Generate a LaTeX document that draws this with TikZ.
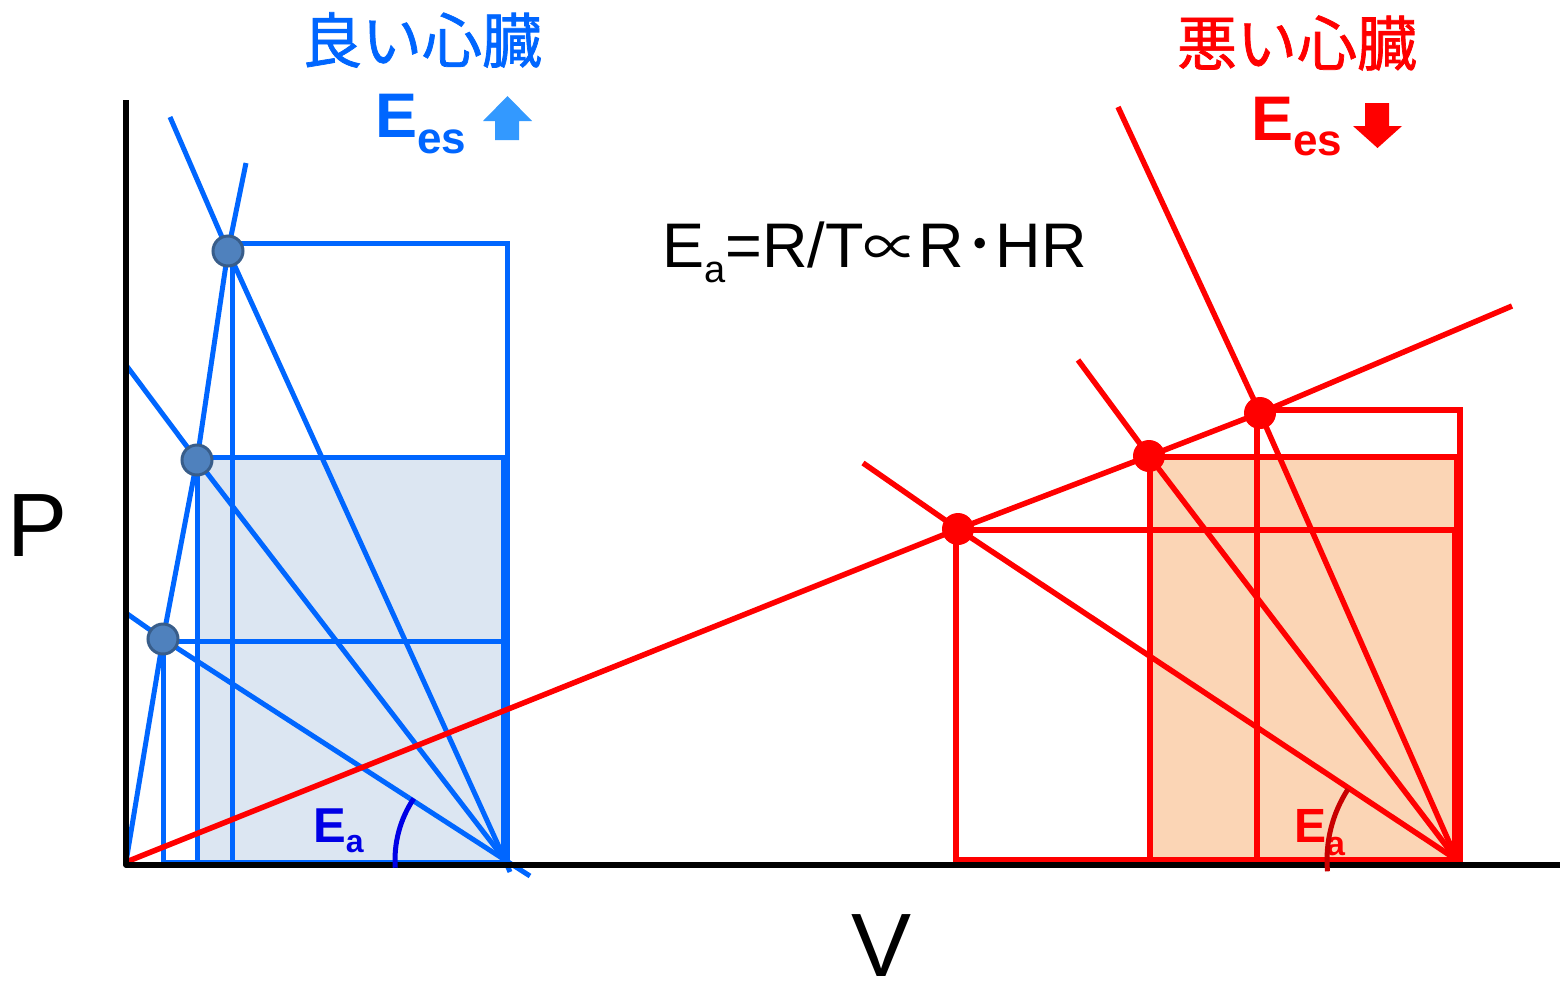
\documentclass[tikz,border=0pt]{standalone}
\usepackage{fontspec}
\setmainfont{Liberation Sans}
\newfontfamily\jpfont{Noto Sans CJK JP}
\newfontfamily\jpheavy[FakeBold=1.2]{Noto Sans CJK JP}
\usetikzlibrary{calc}
\definecolor{goodblue}{RGB}{0,102,255}
\definecolor{goodfill}{RGB}{220,230,242}
\definecolor{dotblue}{RGB}{79,129,189}
\definecolor{dotedge}{RGB}{56,93,138}
\definecolor{arrowblue}{RGB}{51,153,255}
\definecolor{arcblue}{RGB}{0,0,230}
\definecolor{badred}{RGB}{255,0,0}
\definecolor{badfill}{RGB}{251,213,181}
\definecolor{arcred}{RGB}{200,0,0}
\newcommand{\fsz}[1]{\fontsize{#1}{#1}\selectfont}

\begin{document}
\begin{tikzpicture}[
  x=1pt, y=-1pt,
  every node/.style={inner sep=0pt},
  axis/.style={line width=5.5pt, line join=round},
  goodline/.style={draw=goodblue, line width=5pt},
  badline/.style={draw=badred, line width=5.5pt},
  gooddot/.style={circle, fill=dotblue, draw=dotedge, line width=3pt, minimum size=30pt},
  baddot/.style={circle, fill=badred, minimum size=32pt},
  goodarc/.style={draw=arcblue, line width=5pt},
  badarc/.style={draw=arcred, line width=5pt},
  heart/.style={font=\jpheavy\fsz{60}},
  eslabel/.style={font=\bfseries\fsz{63}, anchor=base west},
  ealabel/.style={font=\bfseries\fsz{49}, anchor=base west},
  axlabel/.style={font=\fsz{90}, anchor=base west}
]
\useasboundingbox (0,0) rectangle (1560,983);

\coordinate (O) at (126,862);
\coordinate (gtop) at (246,163);
\coordinate (g1) at (163,639);
\coordinate (g2) at (197,460);
\coordinate (g3) at (228,251);
\coordinate (ga1) at (126,613);
\coordinate (ga2) at (126,365);
\coordinate (ga3) at (170,117);
\coordinate (goodEd) at (505,860);

\coordinate (rtop) at (1512,306);
\coordinate (r1) at (958,529);
\coordinate (r2) at (1149,456);
\coordinate (r3) at (1260,413);
\coordinate (ra1) at (863,463);
\coordinate (ra2) at (1078,360);
\coordinate (ra3) at (1118,107);
\coordinate (badEd) at (1457,860);

\fill[goodfill] (197,457) rectangle (503,862);
\fill[badfill] (1150,457) rectangle (1457,860);

\draw[goodline] (163,641) rectangle (503,862);
\draw[goodline] (197,457) rectangle (503,862);
\draw[goodline] (232,243) rectangle (507,862);

\draw[badline] (956,530) rectangle (1455,860);
\draw[badline] (1150,457) rectangle (1457,860);
\draw[badline] (1257,410) rectangle (1460,860);

\draw[goodline] (ga1) -- (g1) -- (goodEd) -- (530,876);
\draw[goodline] (ga2) -- (g2) -- (goodEd);
\draw[goodline] (ga3) -- (g3) -- (goodEd) -- (510,872);
\draw[goodline] (O) -- (g1) -- (g2) -- (g3) -- (gtop);

\draw[badline] (ra1) -- (r1) -- (badEd);
\draw[badline] (ra2) -- (r2) -- (badEd);
\draw[badline] (ra3) -- (r3) -- (badEd);
\draw[badline] (O) -- (r1) -- (r2) -- (r3) -- (rtop);

\draw[axis] (126,100) -- (126,865) -- (1560,865);

\node[ealabel, text=arcblue] (goodea) at (313,842) {E\raisebox{-10pt}{\fsz{32}a}};
\node[ealabel, text=badred, font=\bfseries\fsz{48}] (badea) at (1294,842) {E\raisebox{-13pt}{\fsz{34}a}};
\draw[goodarc] ($(goodEd)+(176:110)$) arc[start angle=176, end angle=214, radius=110];
\draw[badarc] ($(badEd)+(175:130)$) arc[start angle=175, end angle=213, radius=130];

\node[heart, text=goodblue] (goodheart) at (422,40) {良い心臓};
\node[heart, text=badred] (badheart) at (1297,43) {悪い心臓};
\node[eslabel, text=goodblue] (goodes) at (375,137) {E\raisebox{-16pt}{\fsz{44}es}};
\node[eslabel, text=badred] (bades) at (1251,140) {E\raisebox{-15pt}{\fsz{44}es}};
\fill[arrowblue] (483,121) -- (507.5,96) -- (532,121) -- (519,121) -- (519,140) -- (495,140) -- (495,121) -- cycle;
\fill[badred] (1365,103) -- (1389,103) -- (1389,126) -- (1402,126) -- (1377.5,148) -- (1353,126) -- (1365,126) -- cycle;

\node[anchor=base west, font=\fsz{63}] (eqn) at (662,267)
  {E\raisebox{-15pt}{\fsz{38}a}=R/T{\jpfont\fsz{55}∝}R{\jpfont ･}HR};
\node[axlabel] (plabel) at (7,556) {P};
\node[axlabel] (vlabel) at (851,976) {V};

\node[gooddot] (g1dot) at (g1) {};
\node[gooddot] (g2dot) at (g2) {};
\node[gooddot] (g3dot) at (g3) {};
\node[baddot] (r1dot) at (r1) {};
\node[baddot] (r2dot) at (r2) {};
\node[baddot] (r3dot) at (r3) {};
\end{tikzpicture}
\end{document}
